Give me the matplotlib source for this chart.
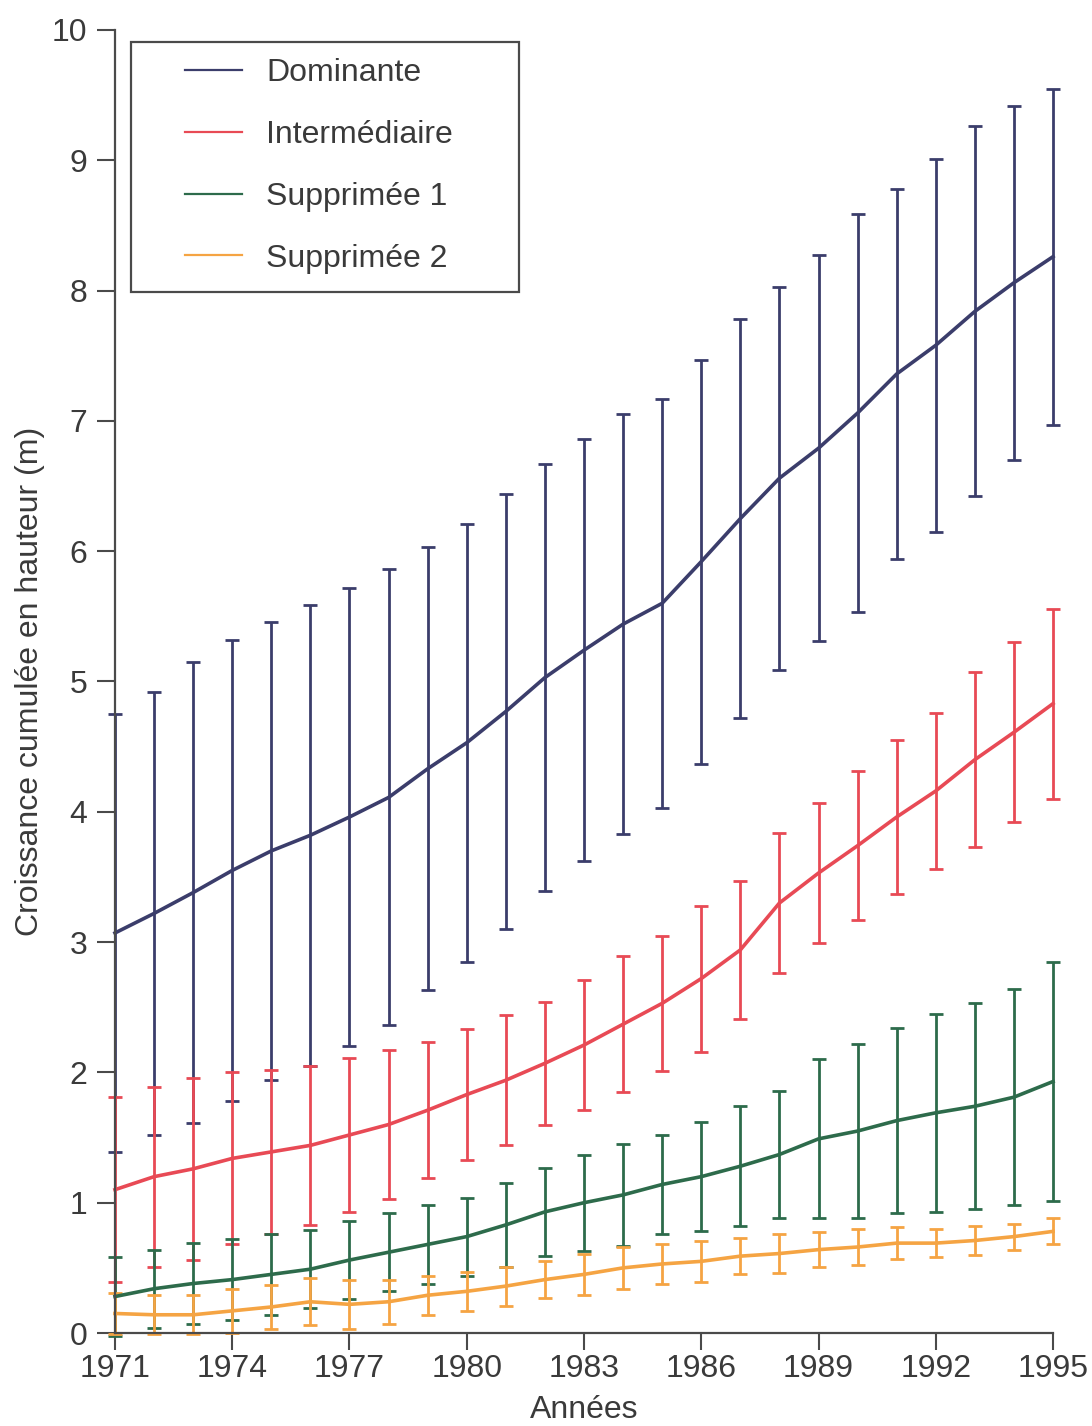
import matplotlib
matplotlib.use('Agg')
import matplotlib.pyplot as plt
from matplotlib.lines import Line2D
from matplotlib.patches import Rectangle

plt.rcParams['font.family'] = ['Liberation Sans', 'DejaVu Sans']

years = list(range(1971, 1996))

# mean cumulative height growth (m) and error-bar half widths
dom_mean = [3.07, 3.22, 3.38, 3.55, 3.70, 3.82, 3.96, 4.11, 4.33, 4.53, 4.77, 5.03, 5.24,
            5.44, 5.60, 5.92, 6.25, 6.56, 6.79, 7.06, 7.36, 7.58, 7.84, 8.06, 8.26]
dom_err = [1.68, 1.70, 1.77, 1.77, 1.76, 1.77, 1.76, 1.75, 1.70, 1.68, 1.67, 1.64, 1.62,
           1.61, 1.57, 1.55, 1.53, 1.47, 1.48, 1.53, 1.42, 1.43, 1.42, 1.36, 1.29]

inter_mean = [1.10, 1.20, 1.26, 1.34, 1.39, 1.44, 1.52, 1.60, 1.71, 1.83, 1.94, 2.07, 2.21,
              2.37, 2.53, 2.72, 2.94, 3.30, 3.53, 3.74, 3.96, 4.16, 4.40, 4.61, 4.83]
inter_err = [0.71, 0.69, 0.70, 0.66, 0.63, 0.61, 0.59, 0.57, 0.52, 0.50, 0.50, 0.47, 0.50,
             0.52, 0.52, 0.56, 0.53, 0.54, 0.54, 0.57, 0.59, 0.60, 0.67, 0.69, 0.73]

sup1_mean = [0.28, 0.34, 0.38, 0.41, 0.45, 0.49, 0.56, 0.62, 0.68, 0.74, 0.83, 0.93, 1.00,
             1.06, 1.14, 1.20, 1.28, 1.37, 1.49, 1.55, 1.63, 1.69, 1.74, 1.81, 1.93]
sup1_err = [0.30, 0.30, 0.31, 0.31, 0.31, 0.30, 0.30, 0.30, 0.30, 0.30, 0.32, 0.34, 0.37,
            0.39, 0.38, 0.42, 0.46, 0.49, 0.61, 0.67, 0.71, 0.76, 0.79, 0.83, 0.92]

sup2_mean = [0.15, 0.14, 0.14, 0.17, 0.20, 0.24, 0.22, 0.24, 0.29, 0.32, 0.36, 0.41, 0.45,
             0.50, 0.53, 0.55, 0.59, 0.61, 0.64, 0.66, 0.69, 0.69, 0.71, 0.74, 0.78]
sup2_err = [0.16, 0.15, 0.15, 0.17, 0.17, 0.18, 0.19, 0.17, 0.15, 0.15, 0.15, 0.14, 0.16,
            0.16, 0.155, 0.155, 0.14, 0.15, 0.135, 0.135, 0.12, 0.11, 0.115, 0.10, 0.10]

labels = ['Dominante', 'Intermédiaire', 'Supprimée 1', 'Supprimée 2']
colors = ['#3b3d6b', '#e84a55', '#2d6b4b', '#f5a443']
series = [(dom_mean, dom_err), (inter_mean, inter_err),
          (sup1_mean, sup1_err), (sup2_mean, sup2_err)]

text_col = '#3a3a3a'
axis_col = '#4a4a4a'

fig = plt.figure(figsize=(10.92, 14.26), dpi=100)
ax = fig.add_axes([0.1053, 0.0652, 0.8590, 0.9138])

for (m, e), c in zip(series, colors):
    ax.errorbar(years, m, yerr=e, color=c, lw=2.6, elinewidth=2.0,
                capsize=5, capthick=2.0, clip_on=False)

ax.set_xlim(1971, 1995)
ax.set_ylim(0, 10)
ax.set_xticks(range(1971, 1996, 3))
ax.set_yticks(range(0, 11))

for side in ['top', 'right']:
    ax.spines[side].set_visible(False)
for side in ['left', 'bottom']:
    ax.spines[side].set_color(axis_col)
    ax.spines[side].set_linewidth(1.6)

ax.tick_params(axis='y', direction='out', length=13, width=1.5, pad=7,
               labelsize=23, colors=axis_col, labelcolor=text_col)
ax.tick_params(axis='x', direction='out', length=12, width=1.5, pad=3,
               labelsize=23, colors=axis_col, labelcolor=text_col)

ax.set_xlabel('Années', fontsize=23, color=text_col, labelpad=8)
ax.set_ylabel('Croissance cumulée en hauteur (m)', fontsize=23, color=text_col, labelpad=5)

handles = [Line2D([], [], color=c, lw=1.6) for c in colors]
ax.legend(handles, labels, loc='upper left', bbox_to_anchor=(0.0746, 0.9786),
          frameon=False, fontsize=23, handlelength=1.8, handletextpad=0.75,
          labelspacing=1.0, borderpad=0, borderaxespad=0, labelcolor=text_col)

# legend frame drawn as a plain rectangle
ax.add_patch(Rectangle((0.0171, 0.7989), 0.4136, 0.1919, transform=ax.transAxes,
                       fill=False, edgecolor=axis_col, lw=1.6, clip_on=False))

fig.savefig('out.png', dpi=100)
plt.close(fig)
